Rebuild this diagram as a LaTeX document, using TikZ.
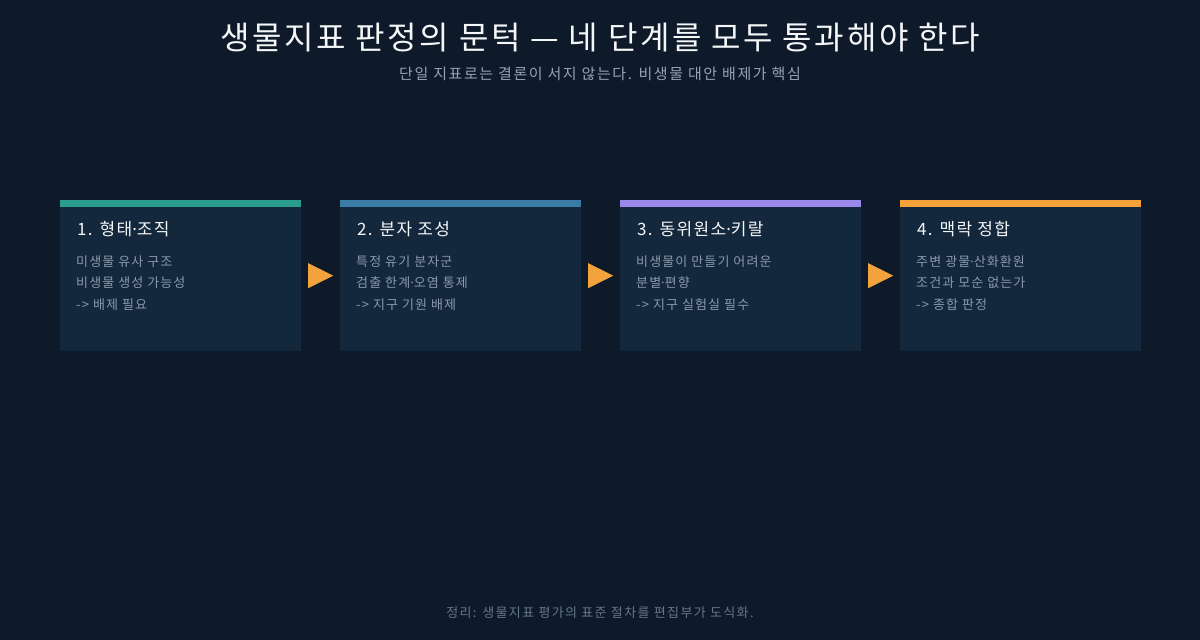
\documentclass[tikz,border=0pt]{standalone}
\usepackage{fontspec}
\usetikzlibrary{calc}
\newfontfamily\krt{Noto Sans CJK KR}[LetterSpace=8.3]
\newfontfamily\krc{Noto Sans CJK KR}[LetterSpace=8]
\newfontfamily\krb{Noto Sans CJK KR}[LetterSpace=8.5]
\newfontfamily\krs{Noto Sans CJK KR}[LetterSpace=10.5]
\newfontfamily\latdot{Noto Sans}
\newcommand{\md}{{\latdot ·}}
\definecolor{bg}{HTML}{0E1A2A}
\definecolor{card}{HTML}{13283D}
\definecolor{titlec}{HTML}{F4F6F8}
\definecolor{subc}{HTML}{95A3B4}
\definecolor{bodyc}{HTML}{8A99AB}
\definecolor{footc}{HTML}{66768A}
\definecolor{cA}{HTML}{2A9D8F}
\definecolor{cB}{HTML}{3A7CA5}
\definecolor{cC}{HTML}{9B8AEB}
\definecolor{cD}{HTML}{F4A23A}
\definecolor{arrowc}{HTML}{F2A33C}
\tikzset{
  cardbox/.style={fill=card, minimum width=241pt, minimum height=151pt, inner sep=0pt, anchor=north west},
  cardtitle/.style={anchor=west, inner sep=0pt, text=titlec, font=\krc\fontsize{17}{20}\selectfont},
  bodytext/.style={anchor=west, inner sep=0pt, text=bodyc, font=\krb\fontsize{13}{16}\selectfont},
  flowtri/.style={fill=arrowc}
}
\begin{document}
\begin{tikzpicture}[x=1pt,y=-1pt]
\fill[bg] (0,0) rectangle (1200,640);
\useasboundingbox (0,0) rectangle (1200,640);
\node[text=titlec, inner sep=0pt, font=\krt\fontsize{32}{38}\selectfont] (title) at (600,38) {생물지표 판정의 문턱 — 네 단계를 모두 통과해야 한다};
\node[text=subc, inner sep=0pt, font=\krs\fontsize{15}{18}\selectfont] (subtitle) at (600,74) {단일 지표로는 결론이 서지 않는다. 비생물 대안 배제가 핵심};
\foreach \i/\x/\col/\t/\a/\b/\c in {
  1/60/cA/{1. 형태\md 조직}/{미생물 유사 구조}/{비생물 생성 가능성}/{-> 배제 필요},
  2/340/cB/{2. 분자 조성}/{특정 유기 분자군}/{검출 한계\md 오염 통제}/{-> 지구 기원 배제},
  3/620/cC/{3. 동위원소\md 키랄}/{비생물이 만들기 어려운}/{분별\md 편향}/{-> 지구 실험실 필수},
  4/900/cD/{4. 맥락 정합}/{주변 광물\md 산화환원}/{조건과 모순 없는가}/{-> 종합 판정}}{
  \node[cardbox] (card\i) at (\x,200) {};
  \fill[\col] (card\i.north west) rectangle ([yshift=-7pt]card\i.north east);
  \node[cardtitle] (ct\i) at (\x+17,229) {\t};
  \node[bodytext] (la\i) at (\x+16,262) {\a};
  \node[bodytext] (lb\i) at (\x+16,283) {\b};
  \node[bodytext] (lc\i) at (\x+16,305) {\c};
}
\foreach \i/\j in {1/2,2/3,3/4}{
  \coordinate (m\i) at ($(card\i.east)!0.5!(card\j.west)$);
  \fill[flowtri] ([xshift=-12.5pt,yshift=12.5pt]m\i) -- ([xshift=12.5pt]m\i) -- ([xshift=-12.5pt,yshift=-12.5pt]m\i) -- cycle;
}
\node[text=footc, inner sep=0pt, font=\krs\fontsize{13}{16}\selectfont] (footer) at (600,613) {정리: 생물지표 평가의 표준 절차를 편집부가 도식화.};
\end{tikzpicture}
\end{document}
